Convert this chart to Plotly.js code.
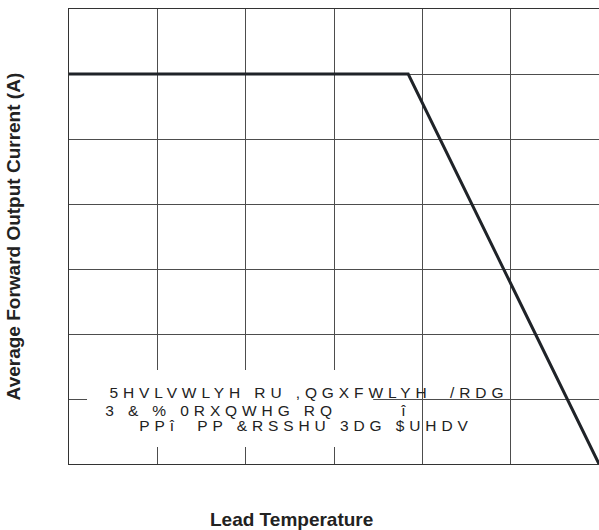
<!DOCTYPE html>
<html>
<head>
<meta charset="utf-8">
<script src="https://cdn.plot.ly/plotly-3.0.1.min.js"></script>
<style>
html,body{margin:0;padding:0;background:#fff;}
#chart{width:599px;height:530px;}
g.annotation[data-index="0"] text,
g.annotation[data-index="1"] text,
g.annotation[data-index="2"] text{letter-spacing:4.9px;}
</style>
</head>
<body>
<div id="chart"></div>
<script>
// Derating curve (axis units = grid divisions; the source shows no tick values)
const leadTemp = [0, 3.84, 6];
const outputCurrent = [6, 6, 0];

const xTitle = 'Lead Temperature';
const yTitle = 'Average Forward Output Current (A)';
const noteLines = [
  '5HVLVWLYH RU ,QGXFWLYH\u00a0 /RDG',
  '3 & % 0RXQWHG RQ\u00a0\u00a0\u00a0\u00a0\u00a0\u00a0 î',
  'PPî\u00a0 PP &RSSHU 3DG $UHDV'
];
// centre of each note line, in axis units
const noteX = [2.717, 2.14, 2.69];
const noteY = [1.105, 0.83, 0.585];

const font = 'Liberation Sans, Arial, sans-serif';
const gridColor = '#4d4d4d';

const annotations = noteLines.map((t, i) => ({
  text: t, xref: 'x', yref: 'y', x: noteX[i], y: noteY[i],
  xanchor: 'center', yanchor: 'middle', showarrow: false,
  font: {family: font, size: 15.5, color: '#222'}, borderpad: 0
}));
annotations.push({
  text: xTitle, xref: 'paper', yref: 'paper', x: 0.419, y: -0.122,
  xanchor: 'center', yanchor: 'middle', showarrow: false,
  font: {family: font, size: 19, color: '#222', weight: 700}
});
annotations.push({
  text: yTitle, xref: 'paper', yref: 'paper', x: -0.104, y: 0.5,
  xanchor: 'center', yanchor: 'middle', showarrow: false, textangle: -90,
  font: {family: font, size: 19, color: '#222', weight: 700}
});

const data = [{
  x: leadTemp, y: outputCurrent, type: 'scatter', mode: 'lines',
  line: {color: '#1f2328', width: 3}, hoverinfo: 'skip'
}];

const layout = {
  width: 599, height: 530,
  margin: {l: 69, r: 0, t: 9, b: 66},
  paper_bgcolor: '#fff', plot_bgcolor: '#fff',
  showlegend: false,
  font: {family: font},
  xaxis: {range: [0, 6], dtick: 1, tick0: 0, showticklabels: false, ticks: '',
    showgrid: true, gridcolor: gridColor, gridwidth: 1, zeroline: false,
    showline: true, linecolor: '#333', linewidth: 1, mirror: true},
  yaxis: {range: [0, 7], dtick: 1, tick0: 0, showticklabels: false, ticks: '',
    showgrid: true, gridcolor: gridColor, gridwidth: 1, zeroline: false,
    showline: true, linecolor: '#333', linewidth: 1, mirror: true},
  shapes: [{type: 'rect', xref: 'paper', yref: 'paper',
    x0: 0.034, x1: 0.574, y0: 0.0374, y1: 0.2066,
    fillcolor: '#ffffff', opacity: 1, line: {width: 0, color: '#ffffff'}, layer: 'above'}],
  annotations: annotations
};

Plotly.newPlot('chart', data, layout, {displayModeBar: false, staticPlot: true});
</script>
</body>
</html>
